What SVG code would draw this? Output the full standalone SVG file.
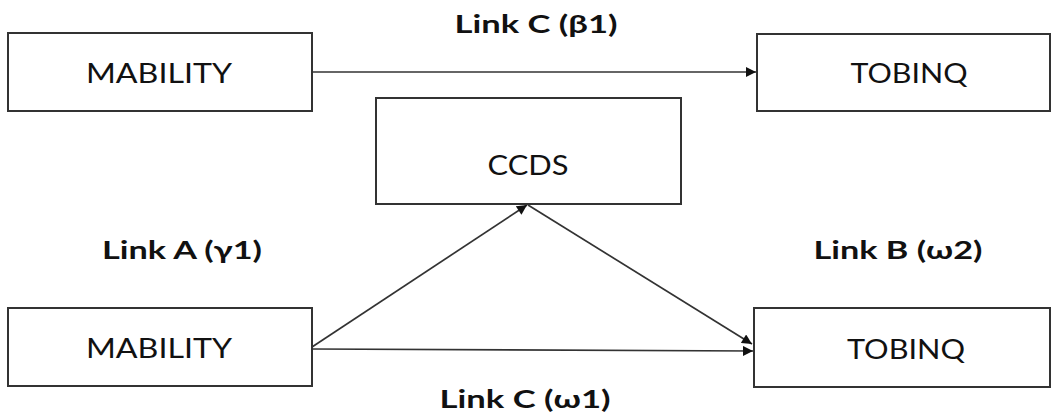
<svg xmlns="http://www.w3.org/2000/svg" width="1056" height="418" viewBox="0 0 1056 418">
  <style>
    .box { fill: #ffffff; stroke: #333333; stroke-width: 2; }
    .name { font-family: Lato, "Open Sans", sans-serif; font-size: 27px; fill: #111111; text-anchor: middle; }
    .link { font-family: Lato, "Open Sans", sans-serif; font-size: 24px; font-weight: bold; fill: #111111; text-anchor: middle; }
    .edge { fill: none; stroke: #333333; stroke-width: 1.7; }
  </style>
  <defs>
    <marker id="arrow" viewBox="0 0 10 10" refX="10" refY="5" markerWidth="11" markerHeight="10" markerUnits="userSpaceOnUse" orient="auto">
      <path d="M0,0 L10,5 L0,10 Z" fill="#111111"/>
    </marker>
  </defs>
  <rect width="1056" height="418" fill="#ffffff"/>

  <!-- path coefficients -->
  <g id="labels">
    <text class="link" x="536" y="33" textLength="163" lengthAdjust="spacingAndGlyphs">Link C (β1)</text>
    <text class="link" x="182" y="259" textLength="160" lengthAdjust="spacingAndGlyphs">Link A (γ1)</text>
    <text class="link" x="898" y="259" textLength="169" lengthAdjust="spacingAndGlyphs">Link B (ω2)</text>
    <text class="link" x="525" y="408" textLength="171" lengthAdjust="spacingAndGlyphs">Link C (ω1)</text>
  </g>

  <g id="connectors">
    <line class="edge" x1="312" y1="72" x2="756" y2="72" marker-end="url(#arrow)"/>
    <line class="edge" x1="312" y1="347" x2="527" y2="205" marker-end="url(#arrow)"/>
    <line class="edge" x1="528" y1="205" x2="752" y2="344" marker-end="url(#arrow)"/>
    <line class="edge" x1="312" y1="349" x2="753" y2="351" marker-end="url(#arrow)"/>
  </g>

  <g id="mability-top">
    <rect class="box" x="8" y="33" width="304" height="78"/>
    <text class="name" x="159" y="83" textLength="146" lengthAdjust="spacingAndGlyphs">MABILITY</text>
  </g>
  <g id="tobinq-top">
    <rect class="box" x="757" y="34" width="293" height="77"/>
    <text class="name" x="909" y="83" textLength="117" lengthAdjust="spacingAndGlyphs">TOBINQ</text>
  </g>
  <g id="ccds">
    <rect class="box" x="376" y="98" width="305" height="106"/>
    <text class="name" x="528" y="175" textLength="81" lengthAdjust="spacingAndGlyphs">CCDS</text>
  </g>
  <g id="mability-bottom">
    <rect class="box" x="8" y="308" width="304" height="78"/>
    <text class="name" x="159" y="358" textLength="146" lengthAdjust="spacingAndGlyphs">MABILITY</text>
  </g>
  <g id="tobinq-bottom">
    <rect class="box" x="754" y="308" width="296" height="79"/>
    <text class="name" x="906" y="359" textLength="118" lengthAdjust="spacingAndGlyphs">TOBINQ</text>
  </g>
</svg>
